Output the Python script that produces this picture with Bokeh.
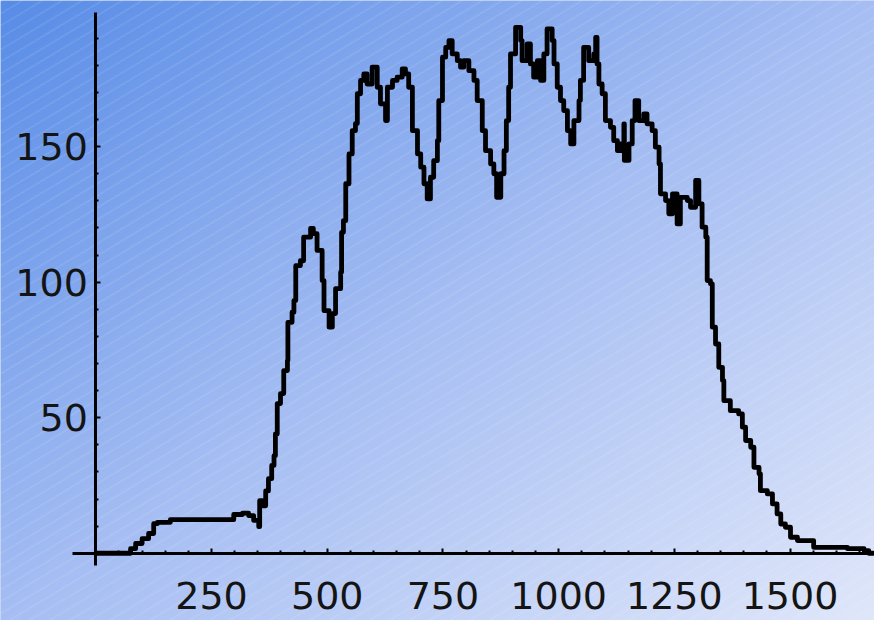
import numpy as np
from bokeh.plotting import figure
from bokeh.models import LinearAxis, FixedTicker, Range1d
from bokeh.embed import file_html
from bokeh.resources import INLINE

# ---- data ----
x_vals = [0, 71, 75, 86, 100, 114, 125, 133, 161, 287, 298, 317, 330, 341, 352,
          354, 360, 367, 373, 380, 385, 388, 392, 399, 406, 414, 415, 424, 428,
          432, 442, 449, 464, 470, 478, 489, 493, 504, 511, 518, 529, 531, 535,
          540, 547, 554, 561, 565, 572, 579, 586, 597, 608, 615, 626, 630, 641,
          651, 662, 669, 676, 684, 695, 702, 709, 716, 723, 730, 738, 741, 749,
          756, 763, 770, 781, 788, 795, 806, 817, 824, 835, 842, 853, 860, 866,
          875, 882, 887, 892, 896, 907, 918, 921, 932, 939, 946, 954, 961, 968,
          975, 986, 990, 997, 1004, 1011, 1019, 1026, 1033, 1044, 1047, 1054,
          1065, 1076, 1080, 1083, 1087, 1094, 1101, 1112, 1119, 1127, 1134,
          1141, 1142, 1152, 1159, 1165, 1173, 1184, 1191, 1202, 1209, 1217,
          1220, 1231, 1238, 1246, 1256, 1263, 1278, 1285, 1296, 1303, 1310,
          1318, 1321, 1328, 1332, 1339, 1346, 1354, 1357, 1371, 1389, 1397,
          1404, 1415, 1422, 1433, 1436, 1451, 1462, 1472, 1480, 1490, 1501,
          1516, 1541, 1551, 1616, 1624, 1660, 1670, 1680]
y_vals = [0, 0, 1.7, 3.6, 5.4, 7.3, 10.9, 11.4, 12.4, 12.4, 14.3, 14.8, 13.9,
          12.1, 9.8, 19.4, 17.5, 23, 27.5, 32.4, 36, 44, 55.2, 58.9, 67.4, 71.1,
          85.2, 88.9, 93.2, 106.1, 107.9, 116.6, 119.8, 117.9, 111.7, 100.6,
          89.5, 83.4, 88.4, 97.6, 103.7, 118.4, 122.7, 136.3, 147.3, 155.9,
          158.5, 169.5, 174.4, 176.8, 173.1, 179.3, 171.9, 165.8, 159.6, 171.9,
          174.4, 175.6, 178.7, 176.8, 171.9, 155.9, 147.3, 142.4, 136.3, 130.7,
          138.7, 144.8, 152.2, 167, 183, 186.6, 189.1, 184.2, 181.7, 179.3,
          181.7, 178, 174.4, 167, 155.9, 148.5, 143.6, 140, 131.3, 140, 148.5,
          159.6, 171.9, 184.2, 194, 189.1, 181.7, 187.9, 180.5, 175.6, 181.7,
          174.4, 184.2, 193.4, 189.1, 180.5, 171.9, 167, 163.3, 155.9, 151,
          159.6, 167, 174.4, 186.6, 181.7, 184.2, 190.3, 180.5, 173.1, 169.5,
          159.6, 157.1, 152.2, 148.5, 151, 158.4, 144.9, 151, 159.6, 167, 159.6,
          162.1, 158.4, 155.9, 149.8, 143.6, 132.6, 130.1, 125.2, 132.6, 121.5,
          131.3, 130.1, 127.6, 137.5, 128.9, 120.3, 116.6, 100.6, 99.4, 83.4,
          77.2, 68.6, 63.7, 56.3, 52.6, 51.4, 46.5, 41.6, 39.1, 31.7, 29.3,
          23.1, 21.9, 18.2, 14.5, 10.8, 9.6, 5.9, 4.7, 4.7, 2.2, 2.2, 1.7, 1.0,
          0, 0]
x_ticks = [250, 500, 750, 1000, 1250, 1500]
y_ticks = [50, 100, 150]
x_minor = [v for v in range(50, 1700, 50) if v not in x_ticks]
y_minor = [v for v in range(10, 200, 10) if v not in y_ticks]

W, H = 874, 620
X0, X1 = -206.0, 1682.5
Y0, Y1 = -24.8, 203.9

p = figure(width=W, height=H, x_range=Range1d(X0, X1), y_range=Range1d(Y0, Y1),
           output_backend="svg", toolbar_location=None, min_border=0,
           x_axis_location=None, y_axis_location=None)
p.outline_line_color = None
p.grid.visible = False
p.background_fill_color = "#a5bdf0"
p.border_fill_color = "#a5bdf0"

# ---- background: diagonal gradient with thin light stripes ----
yy, xx = np.mgrid[0:H, 0:W].astype(float)
t = (xx / W + yy / H) / 2.0
r = np.interp(t, [0, 0.5, 1], [88, 166, 224])
g = np.interp(t, [0, 0.5, 1], [140, 190, 231])
b = np.interp(t, [0, 0.5, 1], [231, 243, 250])
stripe = ((yy + 0.6 * xx) % 12.0) < 1.0
a = 0.18
r = np.where(stripe, r * (1 - a) + 255 * a, r)
g = np.where(stripe, g * (1 - a) + 255 * a, g)
b = np.where(stripe, b * (1 - a) + 255 * a, b)
img = np.empty((H, W), dtype=np.uint32)
view = img.view(dtype=np.uint8).reshape((H, W, 4))
view[:, :, 0] = r.astype(np.uint8)
view[:, :, 1] = g.astype(np.uint8)
view[:, :, 2] = b.astype(np.uint8)
view[:, :, 3] = 255
img = img[::-1].copy()
p.image_rgba(image=[img], x=X0, y=Y0, dw=X1 - X0, dh=Y1 - Y0)

# ---- axes crossing at the origin ----
font = "DejaVu Sans"
xaxis = LinearAxis(fixed_location=0, bounds=(-50, X1),
                   ticker=FixedTicker(ticks=x_ticks, minor_ticks=x_minor))
yaxis = LinearAxis(fixed_location=0, bounds=(-4.5, 199.4),
                   ticker=FixedTicker(ticks=y_ticks, minor_ticks=y_minor))
for ax in (xaxis, yaxis):
    ax.axis_line_color = "black"
    ax.axis_line_width = 3
    ax.major_tick_in = 5
    ax.major_tick_out = 0
    ax.minor_tick_in = 3
    ax.minor_tick_out = 0
    ax.major_tick_line_width = 2
    ax.minor_tick_line_width = 2
    ax.major_tick_line_color = "black"
    ax.minor_tick_line_color = "black"
    ax.major_label_text_font = font
    ax.major_label_text_font_size = "38px"
    ax.major_label_text_color = "#141414"
xaxis.major_label_standoff = 29
yaxis.major_label_standoff = 8
p.add_layout(xaxis, "below")
p.add_layout(yaxis, "left")

# ---- the series ----
p.step(x_vals, y_vals, mode="after", line_width=4.8, line_color="black",
       line_join="round", line_cap="round")

open("out.html", "w").write(file_html(p, INLINE))
